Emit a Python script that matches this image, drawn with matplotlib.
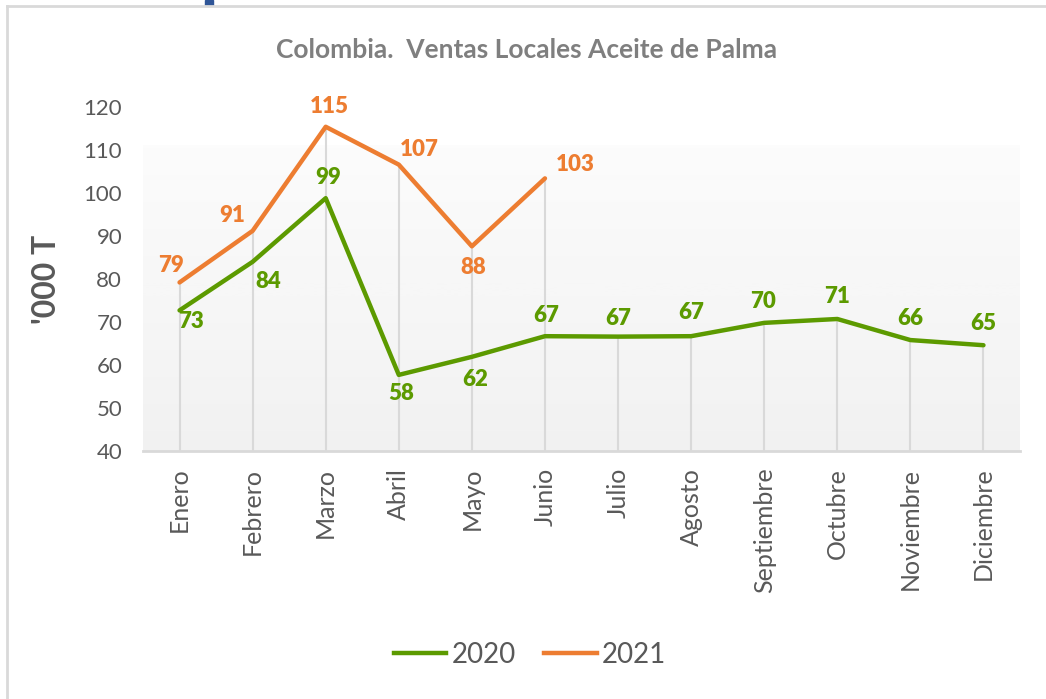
import numpy as np
import matplotlib.pyplot as plt
from matplotlib.lines import Line2D
from matplotlib.patches import Rectangle

plt.rcParams['font.family'] = ['Lato', 'DejaVu Sans']

meses = ['Enero', 'Febrero', 'Marzo', 'Abril', 'Mayo', 'Junio', 'Julio',
         'Agosto', 'Septiembre', 'Octubre', 'Noviembre', 'Diciembre']
v2020 = [72.7, 84.0, 98.8, 57.7, 61.9, 66.7, 66.6, 66.7, 69.8, 70.7, 65.8, 64.6]
v2021 = [79.2, 91.2, 115.4, 106.6, 87.6, 103.4]
# label offsets from each point, in pixels (dx, dy)
off2020 = [(11, -11), (16, -20), (2, 21), (2, -19), (3, -23), (1, 21),
           (0, 18), (0, 24), (-1, 21), (0, 22), (0, 22), (0, 22)]
off2021 = [(-9, 17), (-20, 15), (4, 20), (20, 15), (1, -21), (30, 14)]

verde = '#5c9a00'
naranja = '#ed7d31'
gris = '#595959'
px = 0.72  # pixels -> points at dpi 100

fig = plt.figure(figsize=(10.46, 6.99), dpi=100)
ax = fig.add_axes([143 / 1046, 1 - 451 / 699, 877 / 1046, 344 / 699])

x = np.arange(len(meses))
x21 = np.arange(len(v2021))

# gradient fill of the plot area
grad = np.linspace(0, 1, 256)[:, None]
ax.imshow(grad, extent=(-0.5, 11.5, 40, 111), aspect='auto', cmap='Greys',
          vmin=-0.3, vmax=11, origin='upper', zorder=0)

tops = [max(v2020[i], v2021[i]) if i < len(v2021) else v2020[i] for i in x]
ax.vlines(x, 40, tops, color='#d9d9d9', lw=1.5, zorder=1)

ax.plot(x, v2020, color=verde, lw=3.2, solid_capstyle='round', zorder=3)
ax.plot(x21, v2021, color=naranja, lw=3.2, solid_capstyle='round', zorder=3)

for xi, v, (dx, dy) in zip(x, v2020, off2020):
    ax.annotate(f'{v:.0f}', (xi, v), xytext=(dx * px, dy * px), textcoords='offset points',
                ha='center', va='center', color=verde, fontsize=16, fontweight='heavy')
for xi, v, (dx, dy) in zip(x21, v2021, off2021):
    ax.annotate(f'{v:.0f}', (xi, v), xytext=(dx * px, dy * px), textcoords='offset points',
                ha='center', va='center', color=naranja, fontsize=16, fontweight='heavy')

ax.set_xlim(-0.5, 11.5)
ax.set_ylim(40, 120)
ax.set_yticks(range(40, 121, 10))
ax.set_xticks(x)
ax.set_xticklabels(meses, rotation=90, fontsize=18)
ax.tick_params(axis='both', length=0, colors=gris)
ax.tick_params(axis='y', labelsize=16, pad=15)
ax.tick_params(axis='x', pad=12)
for s in ['top', 'right', 'left']:
    ax.spines[s].set_visible(False)
ax.spines['bottom'].set_color('#d9d9d9')
ax.spines['bottom'].set_linewidth(2)
ax.patch.set_alpha(0)

ax.set_ylabel("'000 T", fontsize=23, fontweight='bold', color=gris, labelpad=16)

fig.text(527 / 1046, 1 - 50 / 699, 'Colombia.  Ventas Locales Aceite de Palma',
         ha='center', va='center', fontsize=19, fontweight='bold', color='#7f7f7f')

handles = [Line2D([], [], color=verde, lw=3.2), Line2D([], [], color=naranja, lw=3.2)]
fig.legend(handles, ['2020', '2021'], loc='center', bbox_to_anchor=(530 / 1046, 1 - 655 / 699),
           ncol=2, frameon=False, fontsize=20, labelcolor=gris, handlelength=1.9,
           columnspacing=1.0, handletextpad=0.2)

# chart frame and blue mark at the top
fig.add_artist(Line2D([7 / 1046, 7 / 1046], [0, 1 - 6 / 699], color='#d9d9d9', lw=2))
fig.add_artist(Line2D([7 / 1046, 1], [1 - 6 / 699, 1 - 6 / 699], color='#d9d9d9', lw=2))
fig.add_artist(Rectangle((205 / 1046, 1 - 5 / 699), 8 / 1046, 5 / 699, color='#2f5597'))

fig.savefig('out.png', dpi=100)
